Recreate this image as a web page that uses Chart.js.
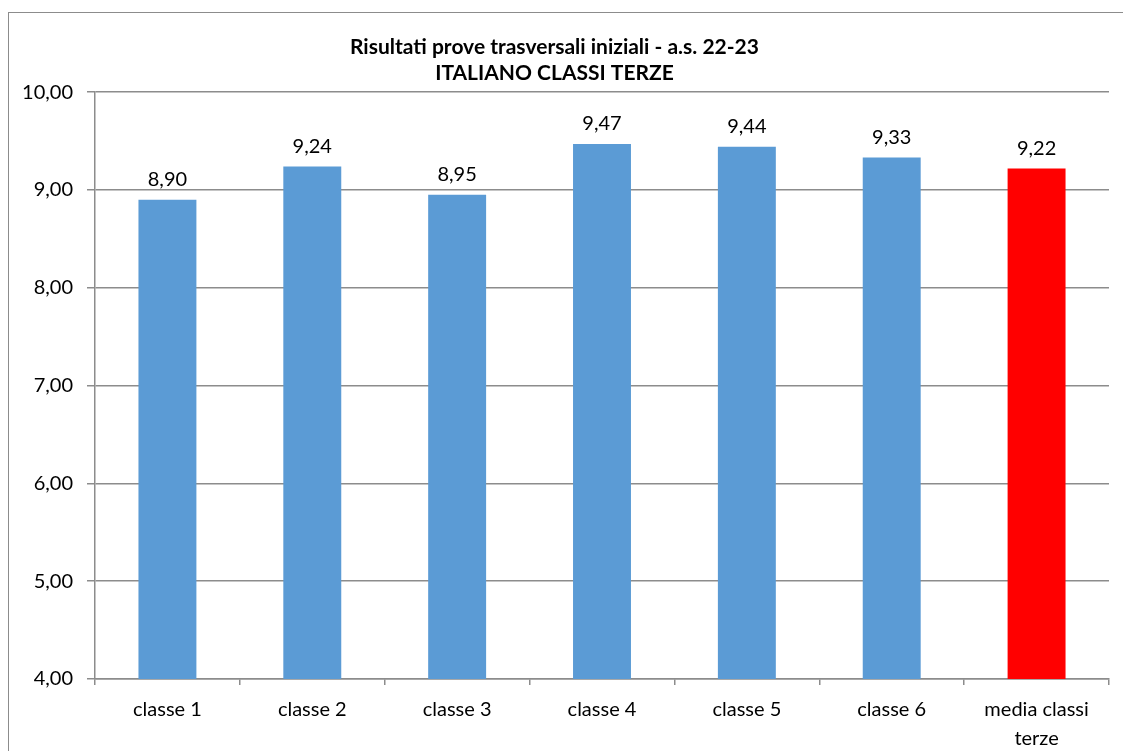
<!DOCTYPE html>
<html><head><meta charset="utf-8">
<script src="https://cdn.jsdelivr.net/npm/chart.js@4/dist/chart.umd.min.js"></script>
<style>
html,body{margin:0;padding:0;background:#fff;overflow:hidden;}
#wrap{position:absolute;left:0;top:0;width:1123px;height:751px;}
#frame{position:absolute;left:8px;top:12px;width:1130px;height:800px;border:1.5px solid #8c8c8c;box-sizing:border-box;pointer-events:none;}
</style></head>
<body>
<div id="wrap"><canvas id="c" width="1123" height="751"></canvas></div>
<div id="frame"></div>
<script>
const categories = ['classe 1','classe 2','classe 3','classe 4','classe 5','classe 6',['media classi','terze']];
const values = [8.90, 9.24, 8.95, 9.47, 9.44, 9.33, 9.22];
const barColors = ['#5B9BD5','#5B9BD5','#5B9BD5','#5B9BD5','#5B9BD5','#5B9BD5','#FF0000'];
const titleLines = ['Risultati prove trasversali iniziali - a.s. 22-23','ITALIANO CLASSI TERZE'];
const yMin = 4, yMax = 10, yStep = 1;

const fmt = v => v.toFixed(2).replace('.', ',');
const FONT = 'Lato, "Open Sans", sans-serif';

const labelPlugin = {
  id:'vals',
  afterDatasetsDraw(chart){
    const ctx = chart.ctx;
    const meta = chart.getDatasetMeta(0);
    ctx.save();
    ctx.font = '20px ' + FONT;
    ctx.fillStyle = '#000';
    ctx.textAlign = 'center';
    ctx.textBaseline = 'bottom';
    meta.data.forEach((b,i)=>{
      ctx.fillText(fmt(values[i]), b.x, b.y - 10);
    });
    ctx.restore();
  }
};

new Chart(document.getElementById('c'), {
  type:'bar',
  data:{labels:categories, datasets:[{data:values, backgroundColor:barColors, categoryPercentage:1, barPercentage:0.4}]},
  options:{
    responsive:false, animation:false,
    layout:{padding:{left:0,right:14,top:0,bottom:0}},
    plugins:{
      legend:{display:false}, tooltip:{enabled:false},
      title:{display:true, text:titleLines, color:'#000', font:{family:FONT, size:21, weight:'bold', lineHeight:1.24}, padding:{top:34,bottom:6}}
    },
    scales:{
      y:{min:yMin, max:yMax,
        ticks:{stepSize:yStep, callback:v=>fmt(v), color:'#000', font:{family:FONT,size:20}, padding:14},
        grid:{color:'#8c8c8c', lineWidth:1.5, tickLength:8, tickColor:'#8c8c8c'},
        border:{color:'#8c8c8c', width:1.5},
        afterFit(s){ s.width = 95; }
      },
      x:{
        ticks:{color:'#000', font:{family:FONT,size:20, lineHeight:1.45}, padding:10},
        grid:{display:true, offset:true, drawOnChartArea:false, tickLength:6, color:'#8c8c8c', lineWidth:1.5},
        border:{color:'#8c8c8c', width:1.5},
        afterFit(s){ s.height = 72; }
      }
    }
  },
  plugins:[labelPlugin]
});
</script>
</body></html>
